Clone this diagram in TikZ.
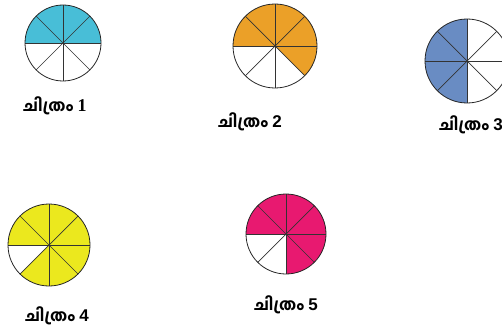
\documentclass[tikz,border=0pt]{standalone}
\usepackage{fontspec}
\newfontfamily\mlfont[Script=Malayalam,BoldFont={Hind Kochi Bold}]{Hind Kochi}
\newfontfamily\numserif{Liberation Serif}
\newfontfamily\numsans{Liberation Sans}
\usetikzlibrary{calc}

\definecolor{piecyan}{RGB}{72,190,215}
\definecolor{pieorange}{RGB}{235,160,40}
\definecolor{pieblue}{RGB}{105,140,195}
\definecolor{pieyellow}{RGB}{235,232,30}
\definecolor{piepink}{RGB}{232,25,112}

\begin{document}
\begin{tikzpicture}[x=1pt,y=1pt]
\tikzset{
  rim/.style={draw=black!85,line width=0.8pt},
  spoke/.style={draw=black!80,line width=0.7pt},
  piecaption/.style={inner sep=0pt,font=\mlfont\bfseries\fontsize{16}{18}\selectfont}
}
\useasboundingbox (0,0) rectangle (502,330);

\coordinate (c1) at (63,287);
\coordinate (c2) at (275,284);
\coordinate (c3) at (467,269);
\coordinate (c4) at (49,85);
\coordinate (c5) at (286,96);

% shaded parts
\fill[piecyan] (c1) -- ++(0:38) arc[start angle=0,end angle=180,radius=38] -- cycle;
\fill[pieorange] (c2) -- ++(-45:42) arc[start angle=-45,end angle=180,radius=42] -- cycle;
\fill[pieblue] (c3) -- ++(90:42) arc[start angle=90,end angle=270,radius=42] -- cycle;
\fill[pieyellow] (c4) -- ++(225:41) arc[start angle=225,end angle=540,radius=41] -- cycle;
\fill[piepink] (c5) -- ++(270:40) arc[start angle=270,end angle=540,radius=40] -- cycle;

% spokes and rims
\foreach \c/\r in {c1/38,c2/42,c3/42,c4/41,c5/40}{
  \foreach \a in {0,45,90,135}
    \draw[spoke] ($(\c)+(\a:\r)$) -- ($(\c)+(\a+180:\r)$);
  \draw[rim] (\c) circle[radius=\r];
}

\node[piecaption] (cap1) at (55,224) {ചിത്രം {\numserif\bfseries\fontsize{18}{18}\selectfont 1}};
\node[piecaption] (cap2) at (250,208) {ചിത്രം {\numsans\bfseries\fontsize{17}{18}\selectfont 2}};
\node[piecaption] (cap3) at (471,205) {ചിത്രം {\numsans\bfseries\fontsize{17}{18}\selectfont 3}};
\node[piecaption] (cap4) at (57,14) {ചിത്രം {\numsans\bfseries\fontsize{17}{18}\selectfont 4}};
\node[piecaption] (cap5) at (286,25) {ചിത്രം {\numsans\bfseries\fontsize{17}{18}\selectfont 5}};
\end{tikzpicture}
\end{document}
